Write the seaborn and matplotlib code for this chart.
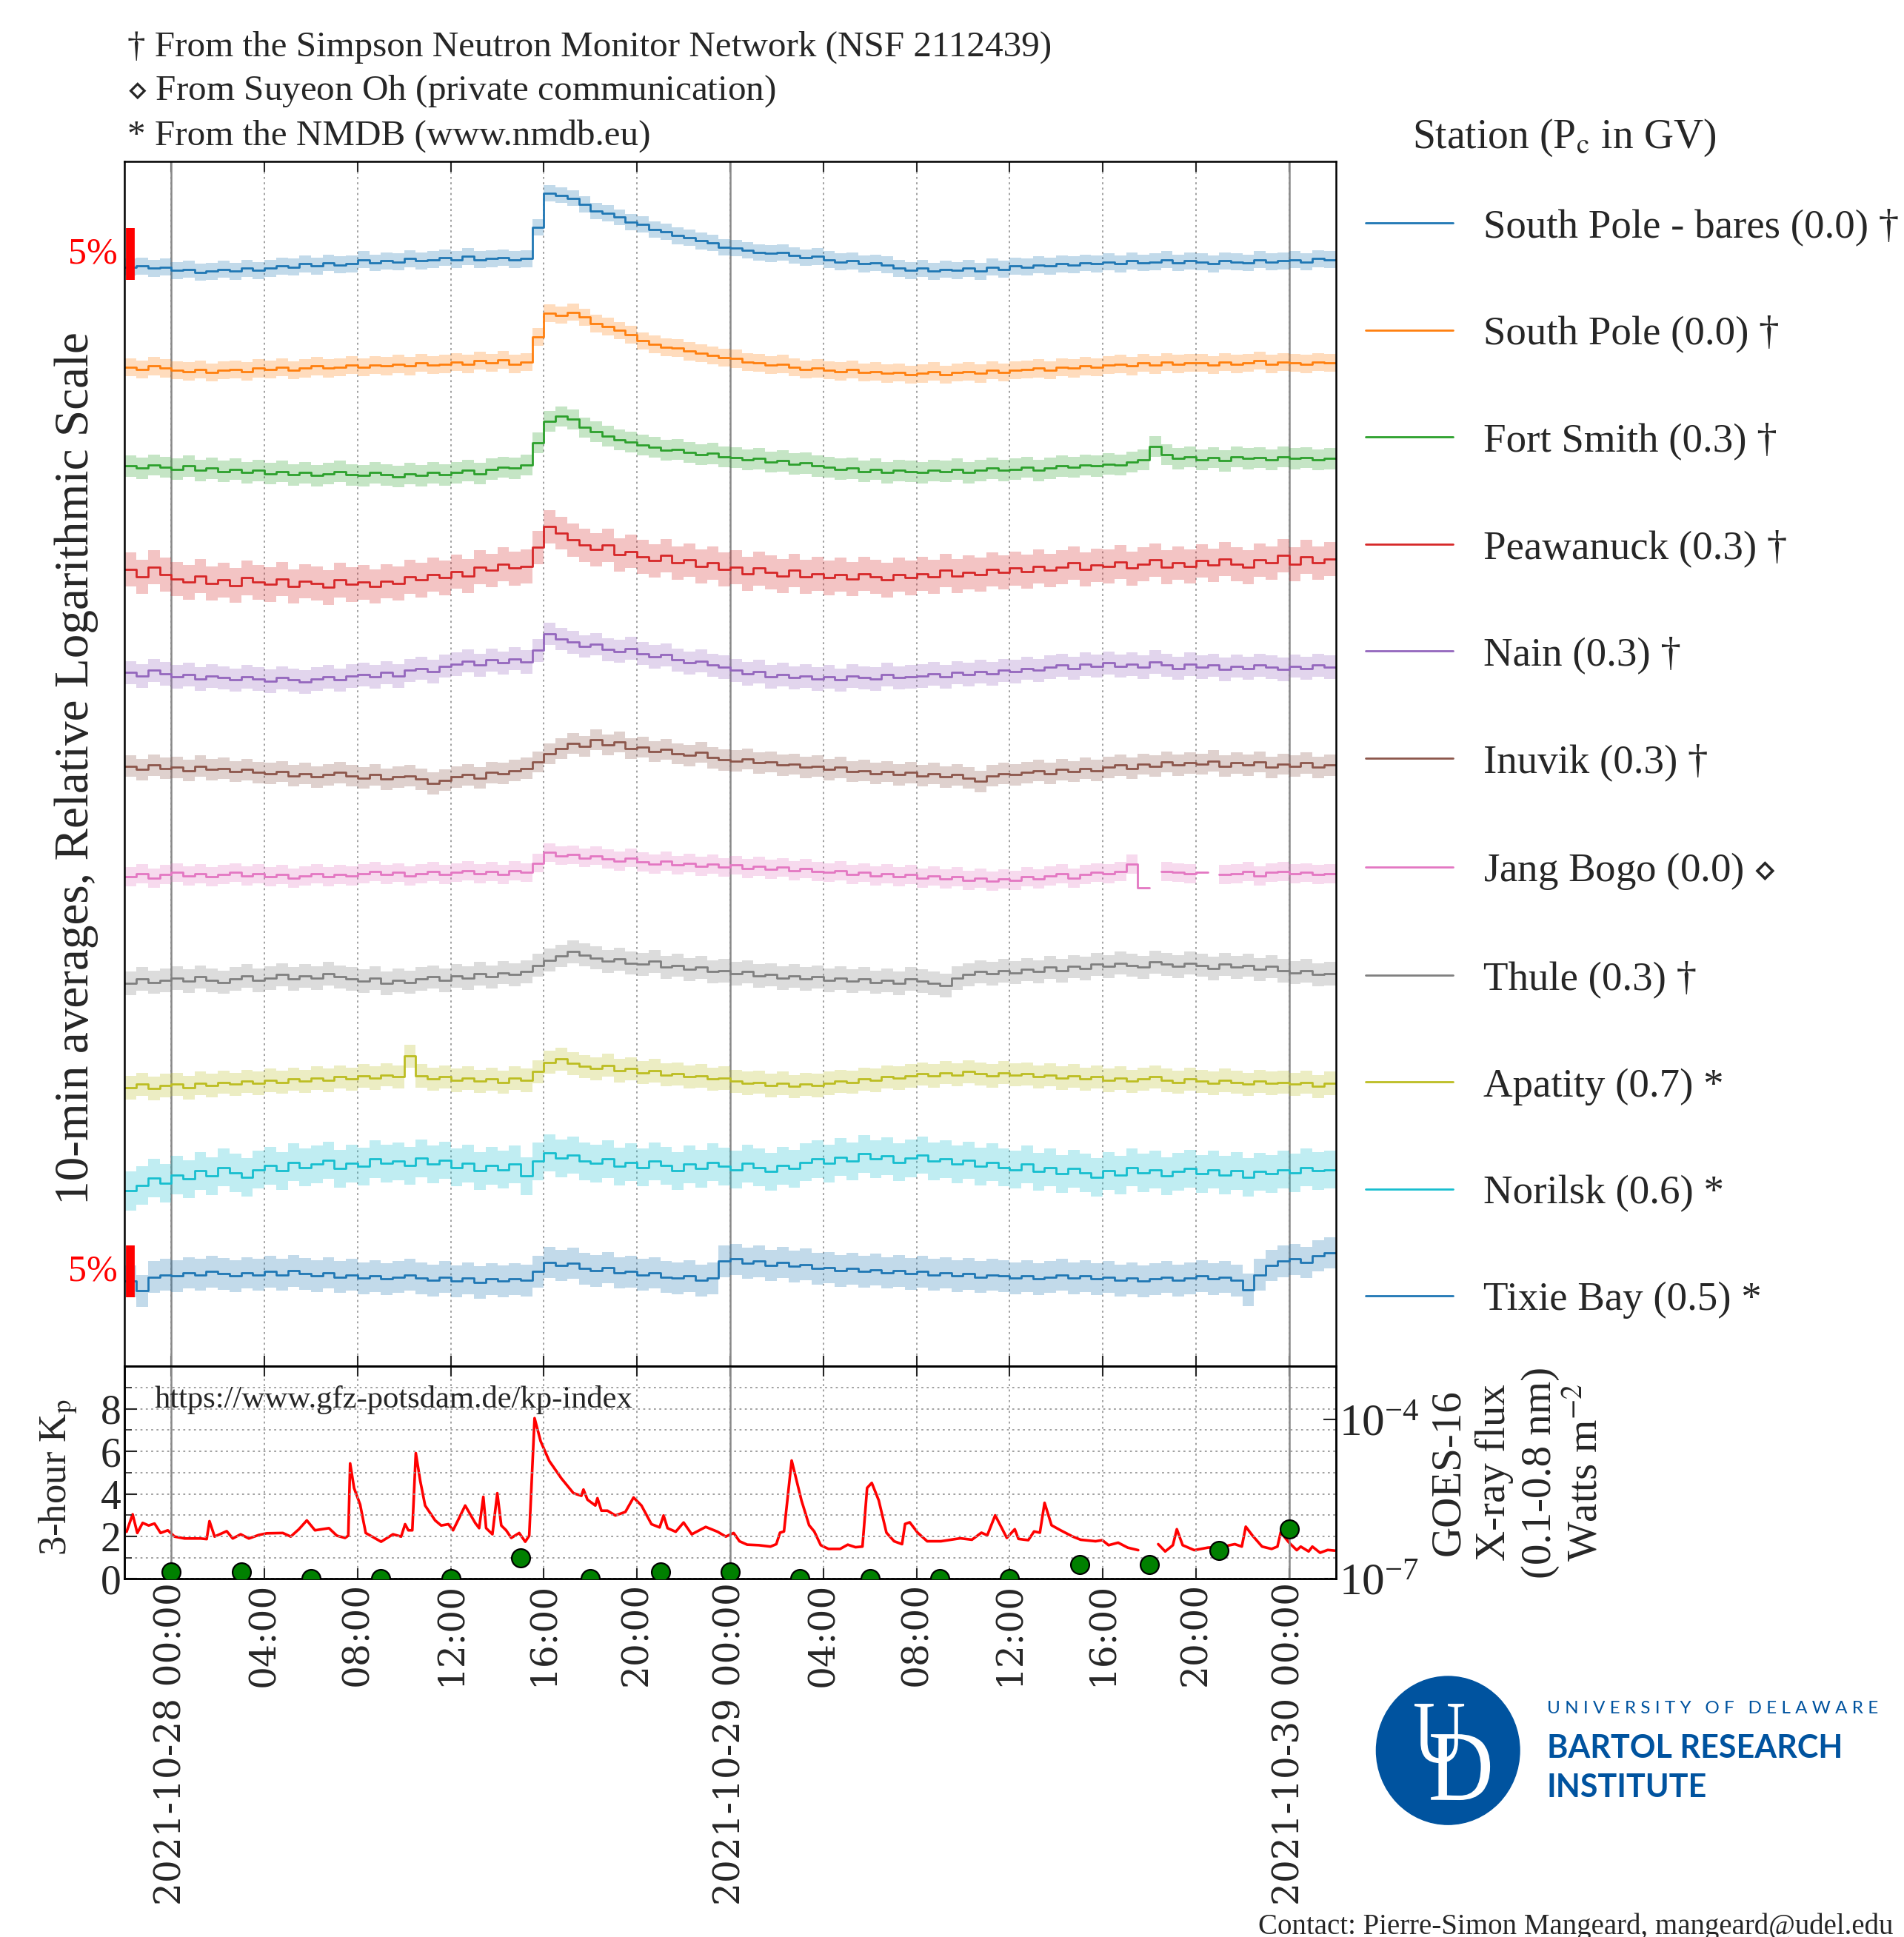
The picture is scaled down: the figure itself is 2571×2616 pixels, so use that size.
import numpy as np
import pandas as pd
import matplotlib
matplotlib.use("Agg")
import matplotlib.pyplot as plt
import matplotlib.dates as mdates
import matplotlib.transforms as mtransforms
from matplotlib.lines import Line2D
from matplotlib.patches import Ellipse, PathPatch
from matplotlib.textpath import TextPath
from matplotlib.font_manager import FontProperties
from matplotlib.ticker import FixedLocator, FuncFormatter, NullLocator
import seaborn as sns

START = pd.Timestamp("2021-10-27 22:00")
END = pd.Timestamp("2021-10-30 02:00")
DAY0 = pd.Timestamp("2021-10-28 00:00")

# percent change vs. pre-event level in 30-min bins from START
SP_BARES = [0.2, 0.3, 0.1, 0.2,
            -0.1, 0.0, -0.3, -0.2, 0.0, -0.2, 0.1, -0.1,
            0.1, 0.3, 0.2, 0.5, 0.3, 0.6, 0.4, 0.5,
            0.9, 0.6, 0.8, 0.7, 1.0, 0.8, 0.9, 1.1,
            0.9, 1.2, 0.9, 1.0, 1.1, 0.9, 1.0, 4.0,
            7.4, 7.2, 6.9, 6.3, 5.6, 5.4, 5.0, 4.5,
            4.3, 3.8, 3.6, 3.2, 3.0, 2.7, 2.5, 2.1,
            2.0, 1.8, 1.6, 1.5, 1.6, 1.3, 1.1, 1.2,
            0.9, 0.7, 0.8, 0.5, 0.6, 0.4, 0.1, -0.1,
            0.1, -0.2, 0.0, -0.1, 0.1, -0.2, 0.2, 0.0,
            0.3, 0.2, 0.4, 0.3, 0.5, 0.4, 0.6, 0.5,
            0.7, 0.5, 0.8, 0.6, 0.7, 0.9, 0.6, 0.8,
            0.7, 0.5, 0.8, 0.7, 0.6, 0.9, 0.7, 0.8,
            0.9, 0.7, 1.0, 0.9]
SOUTH_POLE = [0.1, -0.1, 0.2, 0.0,
              -0.2, -0.3, -0.1, -0.4, -0.2, -0.1, -0.3, 0.0,
              -0.1, 0.1, -0.2, 0.0, 0.2, 0.0, 0.1, 0.3,
              0.1, 0.3, 0.2, 0.4, 0.2, 0.5, 0.3, 0.4,
              0.6, 0.4, 0.7, 0.5, 0.8, 0.4, 0.6, 3.0,
              5.3, 5.1, 5.4, 4.9, 4.3, 4.0, 3.6, 3.2,
              2.6, 2.3, 2.0, 1.9, 1.6, 1.4, 1.2, 1.0,
              0.9, 0.6, 0.5, 0.3, 0.4, 0.1, -0.1, 0.0,
              -0.2, -0.3, -0.1, -0.4, -0.3, -0.5, -0.4, -0.6,
              -0.5, -0.3, -0.6, -0.4, -0.3, -0.5, -0.2, -0.4,
              -0.2, -0.1, 0.0, -0.2, 0.1, 0.0, 0.2, 0.1,
              0.3, 0.4, 0.2, 0.5, 0.3, 0.6, 0.4, 0.5,
              0.5, 0.3, 0.6, 0.4, 0.5, 0.7, 0.4, 0.6,
              0.5, 0.4, 0.6, 0.5]
FORT_SMITH = [0.3, 0.1, 0.4, 0.2,
              0.0, 0.3, -0.1, 0.1, -0.2, 0.0, -0.3, -0.1,
              -0.4, -0.2, -0.5, -0.3, -0.6, -0.4, -0.2, -0.5,
              -0.6, -0.3, -0.5, -0.7, -0.4, -0.6, -0.3, -0.5,
              -0.3, -0.1, -0.4, 0.0, 0.2, 0.1, 0.4, 2.5,
              4.6, 5.1, 4.8, 4.0, 3.6, 3.2, 2.8, 2.6,
              2.3, 2.1, 1.8, 1.9, 1.6, 1.4, 1.5, 1.2,
              1.1, 0.9, 1.0, 0.7, 0.8, 0.5, 0.6, 0.3,
              0.2, 0.0, 0.1, -0.2, 0.0, -0.3, -0.1, -0.2,
              -0.3, -0.1, -0.2, 0.0, -0.3, -0.1, 0.1, -0.1,
              0.0, 0.2, -0.1, 0.1, 0.3, 0.2, 0.4, 0.3,
              0.5, 0.4, 0.7, 0.9, 2.2, 1.4, 1.0, 1.2,
              0.9, 1.1, 0.8, 1.2, 1.0, 1.1, 0.9, 1.2,
              1.0, 1.1, 0.9, 1.0]
PEAWANUCK = [0.3, -0.4, 0.5, -0.2,
             -0.6, -0.9, -0.3, -1.0, -0.7, -1.2, -0.5, -0.9,
             -1.1, -0.6, -1.3, -0.8, -1.0, -1.4, -0.7, -1.1,
             -0.9, -1.3, -0.8, -1.0, -0.4, -0.7, -0.2, -0.5,
             0.1, -0.3, 0.5, 0.2, 0.8, 0.4, 0.6, 2.4,
             4.4, 3.8, 3.1, 2.6, 2.2, 2.6, 1.7, 2.0,
             1.5, 1.1, 1.6, 0.9, 1.2, 0.6, 0.9, 0.3,
             0.5, -0.1, 0.4, 0.0, -0.3, 0.2, -0.4, -0.1,
             -0.5, -0.2, -0.6, -0.1, -0.4, -0.7, -0.2, -0.5,
             -0.1, -0.4, 0.2, -0.3, 0.0, -0.2, 0.3, 0.0,
             0.4, 0.1, 0.6, 0.2, 0.5, 0.9, 0.3, 0.7,
             0.6, 1.0, 0.4, 0.8, 1.2, 0.5, 0.9, 0.6,
             1.1, 0.7, 1.3, 0.8, 0.5, 1.2, 0.9, 1.6,
             0.8, 1.5, 0.9, 1.3]
NAIN = [0.1, -0.2, 0.3, 0.0,
        -0.3, -0.1, -0.5, -0.2, -0.4, -0.6, -0.3, -0.5,
        -0.7, -0.4, -0.6, -0.8, -0.5, -0.3, -0.6, -0.2,
        -0.1, -0.3, 0.1, -0.2, 0.3, 0.5, 0.2, 0.7,
        0.9, 1.2, 0.8, 1.3, 1.0, 1.4, 1.1, 2.2,
        3.8, 3.3, 3.0, 2.6, 2.8, 2.3, 2.1, 2.4,
        1.9, 1.6, 1.8, 1.3, 1.0, 1.2, 0.8, 0.6,
        0.3, 0.0, 0.2, -0.3, -0.1, -0.4, -0.2, -0.5,
        -0.3, -0.6, -0.2, -0.4, -0.5, -0.1, -0.4, -0.3,
        -0.2, 0.0, -0.3, 0.1, -0.1, 0.2, 0.0, 0.3,
        0.2, 0.5, 0.3, 0.6, 0.8, 0.5, 0.9, 0.7,
        1.0, 0.7, 0.9, 0.6, 1.1, 0.8, 0.5, 0.9,
        0.6, 0.8, 0.4, 0.7, 0.5, 0.8, 0.6, 0.4,
        0.7, 0.5, 0.8, 0.6]
INUVIK = [0.2, -0.1, 0.3, 0.0,
          0.1, -0.2, 0.2, -0.1, 0.0, -0.3, -0.1, -0.4,
          -0.5, -0.3, -0.7, -0.5, -0.8, -0.6, -0.4, -0.7,
          -0.9, -0.6, -1.0, -0.8, -0.7, -1.0, -1.4, -1.1,
          -0.8, -0.6, -0.9, -0.4, -0.5, -0.2, 0.0, 0.6,
          1.4, 1.9, 2.4, 2.1, 2.7, 2.2, 2.5, 1.9,
          2.0, 1.6, 1.8, 1.4, 1.2, 1.5, 1.0, 0.8,
          0.7, 0.9, 0.5, 0.6, 0.3, 0.4, 0.1, 0.2,
          -0.1, 0.1, -0.3, -0.2, -0.5, -0.3, -0.6, -0.4,
          -0.7, -0.5, -0.8, -0.6, -0.9, -1.2, -0.7, -0.5,
          -0.6, -0.4, -0.2, -0.5, -0.1, -0.3, 0.0, -0.2,
          0.1, 0.3, 0.0, 0.4, 0.2, 0.6, 0.3, 0.5,
          0.4, 0.7, 0.2, 0.5, 0.3, 0.6, 0.1, 0.4,
          0.2, 0.5, 0.1, 0.3]
JANG_BOGO = [-0.2, 0.1, -0.3, 0.0,
             0.2, -0.1, 0.1, -0.2, 0.0, 0.2, -0.1, 0.1,
             -0.2, 0.0, -0.3, -0.1, 0.1, -0.2, 0.0, -0.1,
             0.1, 0.3, 0.0, 0.2, -0.1, 0.1, 0.3, 0.0,
             0.2, 0.4, 0.1, 0.3, 0.0, 0.4, 0.2, 1.1,
             2.1, 1.8, 1.9, 1.6, 1.8, 1.5, 1.3, 1.6,
             1.2, 1.0, 1.3, 0.9, 1.1, 0.8, 1.0, 0.7,
             0.9, 0.6, 0.8, 0.5, 0.7, 0.4, 0.6, 0.3,
             0.2, 0.4, 0.0, 0.2, -0.1, 0.1, -0.2, 0.0,
             -0.3, -0.1, -0.4, -0.2, -0.5, -0.3, -0.6, -0.4,
             -0.5, -0.2, -0.4, -0.1, 0.1, -0.3, 0.0, 0.2,
             0.1, 0.3, 1.0, -1.2, np.nan, 0.3, 0.2, 0.1,
             0.2, np.nan, 0.0, 0.1, 0.3, -0.1, 0.2, 0.3,
             0.1, 0.2, 0.0, 0.1]
THULE = [-0.3, 0.1, -0.2, 0.0,
         0.2, -0.1, 0.3, 0.0, -0.2, 0.1, 0.4, 0.0,
         0.2, 0.5, 0.1, 0.4, 0.2, 0.6, 0.3, 0.1,
         -0.1, 0.2, -0.3, 0.0, -0.2, 0.1, 0.3, 0.0,
         0.4, 0.2, 0.6, 0.3, 0.7, 0.5, 0.8, 1.4,
         1.9, 2.3, 2.7, 2.4, 2.1, 1.8, 2.0, 1.6,
         1.5, 1.8, 1.2, 1.4, 1.0, 1.2, 0.8, 0.9,
         0.6, 0.8, 0.4, 0.5, 0.2, 0.4, 0.1, 0.3,
         0.0, 0.2, -0.1, 0.1, -0.2, 0.0, -0.3, 0.1,
         -0.1, -0.3, -0.5, 0.2, 0.5, 0.8, 0.6, 0.9,
         0.7, 1.0, 0.8, 1.2, 0.9, 1.3, 1.1, 1.5,
         1.3, 1.6, 1.4, 1.2, 1.7, 1.5, 1.3, 1.6,
         1.4, 1.1, 1.5, 1.2, 1.4, 1.0, 1.3, 0.9,
         0.7, 0.9, 0.5, 0.6]
APATITY = [-0.2, 0.1, -0.3, 0.0,
           0.1, -0.2, 0.2, 0.0, 0.3, 0.1, 0.4, 0.2,
           0.5, 0.3, 0.6, 0.4, 0.7, 0.5, 0.8, 0.6,
           0.9, 0.7, 1.0, 0.8, 2.8, 0.9, 0.6, 0.8,
           0.5, 0.7, 0.4, 0.6, 0.3, 0.7, 0.5, 1.3,
           2.2, 2.5, 2.1, 1.8, 1.6, 1.9, 1.4, 1.6,
           1.2, 1.4, 1.0, 1.1, 0.8, 0.9, 0.6, 0.7,
           0.4, 0.2, 0.3, 0.0, 0.2, -0.1, 0.1, 0.0,
           0.2, 0.4, 0.3, 0.6, 0.5, 0.8, 0.7, 0.9,
           1.1, 0.9, 1.2, 1.0, 1.3, 1.1, 0.9, 1.2,
           1.0, 1.1, 0.8, 1.0, 0.7, 0.9, 0.6, 0.8,
           0.5, 0.7, 0.4, 0.6, 0.8, 0.5, 0.3, 0.6,
           0.4, 0.2, 0.5, 0.3, 0.1, 0.4, 0.2, 0.3,
           0.1, 0.3, -0.1, 0.2]
NORILSK = [-1.0, -0.5, 0.2, -0.3,
           0.5, 0.1, 0.9, 0.4, 1.2, 0.7, 0.3, 1.0,
           1.4, 0.9, 1.7, 1.2, 1.5, 1.9, 1.1, 1.6,
           1.3, 2.0, 1.6, 1.8, 1.4, 2.1, 1.5, 1.9,
           1.2, 1.6, 0.9, 1.4, 1.0, 1.5, 0.4, 1.8,
           2.6, 2.1, 2.4, 1.8, 1.6, 2.0, 1.3, 1.7,
           1.2, 1.8, 1.4, 0.9, 1.5, 1.1, 1.7, 1.3,
           1.0, 1.6, 1.2, 0.8, 1.4, 1.1, 1.7, 2.0,
           1.6, 2.2, 1.8, 2.5, 2.0, 2.3, 1.7, 2.1,
           2.4, 1.8, 2.0, 1.5, 1.9, 1.3, 1.7, 1.2,
           1.0, 1.5, 0.8, 1.2, 0.6, 1.1, 0.7, 0.3,
           0.9, 0.5, 1.2, 0.7, 1.0, 0.4, 0.8, 1.1,
           0.6, 1.0, 0.5, 0.9, 0.3, 0.8, 0.6, 1.0,
           0.7, 1.2, 0.9, 1.0]
TIXIE_BAY = [0.0, -0.9, 0.4, 0.6,
             0.5, 0.8, 0.6, 0.9, 0.7, 0.5, 0.8, 0.6,
             0.9, 0.6, 1.0, 0.7, 0.5, 0.8, 0.4, 0.6,
             0.3, 0.5, 0.2, 0.4, 0.6, 0.3, 0.1, 0.4,
             0.0, 0.3, -0.1, 0.2, 0.0, 0.2, 0.1, 0.9,
             1.8, 1.5, 1.7, 1.2, 1.0, 1.3, 0.8, 0.9,
             0.6, 0.8, 0.4, 0.3, 0.5, 0.1, 0.3, 1.9,
             2.1, 1.7, 1.9, 1.5, 1.8, 1.4, 1.6, 1.2,
             1.3, 1.0, 1.2, 0.9, 1.1, 0.8, 1.0, 0.7,
             0.9, 0.6, 0.8, 0.5, 0.7, 0.4, 0.6, 0.5,
             0.3, 0.5, 0.2, 0.4, 0.6, 0.3, 0.5, 0.2,
             0.4, 0.1, 0.3, 0.0, 0.2, 0.4, 0.1, 0.3,
             0.5, 0.2, 0.4, 0.1, -0.8, 0.6, 1.5, 1.9,
             2.1, 1.8, 2.4, 2.7]

STATION_LABELS = ["South Pole - bares (0.0) †", "South Pole (0.0) †", "Fort Smith (0.3) †",
                  "Peawanuck (0.3) †", "Nain (0.3) †", "Inuvik (0.3) †",
                  "Jang Bogo (0.0) $\\diamond$", "Thule (0.3) †", "Apatity (0.7) *",
                  "Norilsk (0.6) *", "Tixie Bay (0.5) *"]
STATION_DATA = [SP_BARES, SOUTH_POLE, FORT_SMITH, PEAWANUCK, NAIN, INUVIK,
                JANG_BOGO, THULE, APATITY, NORILSK, TIXIE_BAY]
STATION_ERR = [0.8, 0.85, 1.0, 1.6, 1.1, 1.0, 0.9, 1.1, 1.1, 1.8, 1.5]
OFFSETS = [-10.1, -19.4, -28.9, -38.6, -48.1, -57.0, -67.0, -76.9, -86.8, -95.7, -105.2]

# Kp every 3 h from 2021-10-28 00:00
KP = [0.33, 0.33, 0.0, 0.0, 0.0, 1.0, 0.0, 0.33, 0.33,
      0.0, 0.0, 0.0, 0.0, 0.67, 0.67, 1.33, 2.33]

# GOES-16 long channel, hours after 2021-10-28 00:00
GOES_HOURS = [-1.92, -1.66, -1.46, -1.23, -0.97, -0.72, -0.46, -0.15, 0.14, 0.57,
              1.26, 1.52, 1.64, 1.86, 2.38, 2.64, 2.98, 3.33, 3.76, 4.10,
              4.79, 5.13, 5.48, 5.82, 6.17, 6.77, 7.11, 7.46, 7.60, 7.68,
              7.85, 8.11, 8.35, 9.01, 9.52, 9.87, 10.04, 10.18, 10.35, 10.50,
              10.69, 10.90, 11.33, 11.59, 11.90, 12.10, 12.31, 12.62, 13.05, 13.22,
              13.40, 13.52, 13.79, 14.00, 14.17, 14.38, 14.60, 14.94, 15.20, 15.37,
              15.60, 15.86, 16.23, 16.75, 17.27, 17.61, 17.70, 17.87, 18.21, 18.30,
              18.47, 18.73, 19.07, 19.50, 19.85, 20.19, 20.62, 20.97, 21.14, 21.31,
              21.66, 22.00, 22.35, 22.95, 23.46, 23.81, 24.15, 24.40, 24.73, 25.23,
              25.73, 25.98, 26.14, 26.31, 26.64, 27.06, 27.39, 27.61, 27.89, 28.22,
              28.72, 29.05, 29.38, 29.68, 29.88, 30.08, 30.38, 30.71, 31.04, 31.38,
              31.51, 31.71, 32.05, 32.46, 33.05, 33.88, 34.38, 34.79, 35.04, 35.38,
              35.88, 36.22, 36.38, 36.80, 37.05, 37.30, 37.50, 37.80, 38.19, 38.71,
              39.05, 39.69, 39.98, 40.25, 40.66, 41.07, 41.52, 41.90, 42.38, 42.68,
              43.01, 43.18, 43.43, 43.93, 44.51, 45.17, 45.67, 45.97, 46.14, 46.42,
              46.84, 47.25, 47.50, 47.64, 48.00, 48.33, 48.50, 48.84, 49.00, 49.33,
              49.66, 49.96]
GOES_FLUX = [7.7e-7, 1.64e-6, 7.3e-7, 1.13e-6, 1.01e-6, 1.10e-6, 7.3e-7, 8.2e-7, 6.25e-7, 5.75e-7,
             5.75e-7, 5.6e-7, 1.22e-6, 6.25e-7, 7.9e-7, 5.75e-7, 6.9e-7, 5.75e-7, 6.7e-7, 7.2e-7,
             7.3e-7, 6.25e-7, 8.6e-7, 1.26e-6, 8.2e-7, 9.0e-7, 6.5e-7, 5.9e-7, 6.5e-7, 1.49e-5,
             5.1e-6, 2.5e-6, 7.3e-7, 5.0e-7, 6.9e-7, 6.25e-7, 1.07e-6, 8.2e-7, 8.2e-7, 2.33e-5,
             7.0e-6, 2.4e-6, 1.26e-6, 1.01e-6, 1.07e-6, 8.2e-7, 1.26e-6, 2.4e-6, 1.13e-6, 9.0e-7,
             3.5e-6, 9.0e-7, 6.9e-7, 4.1e-6, 1.01e-6, 8.2e-7, 5.9e-7, 7.3e-7, 5.0e-7, 6.5e-7,
             1.06e-4, 3.9e-5, 1.66e-5, 7.8e-6, 4.1e-6, 3.66e-6, 4.8e-6, 3.1e-6, 2.4e-6, 3.3e-6,
             1.92e-6, 1.92e-6, 1.56e-6, 1.82e-6, 3.4e-6, 2.4e-6, 1.07e-6, 9.3e-7, 1.56e-6, 9.0e-7,
             7.7e-7, 1.15e-6, 6.9e-7, 9.5e-7, 7.7e-7, 6.25e-7, 7.3e-7, 5.1e-7, 4.4e-7, 4.3e-7,
             4.05e-7, 4.5e-7, 7.4e-7, 7.8e-7, 1.69e-5, 3.0e-6, 1.02e-6, 7.8e-7, 4.3e-7, 3.66e-7,
             3.66e-7, 4.4e-7, 3.94e-7, 4.05e-7, 5.15e-6, 6.4e-6, 3.0e-6, 7.4e-7, 5.1e-7, 4.5e-7,
             1.08e-6, 1.16e-6, 7.4e-7, 5.1e-7, 5.1e-7, 5.8e-7, 5.45e-7, 7.4e-7, 6.6e-7, 1.57e-6,
             5.9e-7, 8.6e-7, 5.65e-7, 5.35e-7, 7.8e-7, 7.4e-7, 2.7e-6, 1.02e-6, 8.2e-7, 6.25e-7,
             5.45e-7, 5.1e-7, 5.35e-7, 4.3e-7, 4.8e-7, 3.87e-7, 3.47e-7, np.nan, 4.5e-7, 3.28e-7,
             4.3e-7, 8.6e-7, 4.3e-7, 3.47e-7, 3.87e-7, 4.05e-7, 4.5e-7, 4.05e-7, 9.6e-7, 6.6e-7,
             4.05e-7, 3.66e-7, 4.05e-7, 7.5e-7, 4.8e-7, 3.47e-7, 4.05e-7, 3.28e-7, 4.05e-7, 3.1e-7,
             3.5e-7, 3.4e-7]

sns.set_theme(style="white")
plt.rcParams["font.family"] = ["Liberation Serif", "DejaVu Serif"]
plt.rcParams["mathtext.fontset"] = "stix"
plt.rcParams["axes.linewidth"] = 1.8
plt.rcParams["axes.edgecolor"] = "black"

palette = sns.color_palette("tab10")
fig = plt.figure(figsize=(25.71, 26.16), dpi=100)
ax = fig.add_axes([0.0655, 0.2946, 0.636, 0.6219])
ax_low = fig.add_axes([0.0655, 0.1849, 0.636, 0.1097], sharex=ax)

# ---- stacked neutron monitor traces
for i, vals in enumerate(STATION_DATA):
    v = np.array(vals, dtype=float)
    edges = pd.date_range(START, periods=len(v) + 1, freq="30min")
    y = OFFSETS[i] + 100 * np.log1p(v / 100)
    lo = OFFSETS[i] + 100 * np.log1p((v - STATION_ERR[i]) / 100)
    hi = OFFSETS[i] + 100 * np.log1p((v + STATION_ERR[i]) / 100)
    c = palette[i % 10]
    ax.fill_between(edges, np.append(lo, lo[-1]), np.append(hi, hi[-1]),
                    step="post", color=c, alpha=0.27, lw=0)
    ax.step(edges, np.append(y, y[-1]), where="post", color=c, lw=2.0)

ax.set_xlim(START, END)
ax.set_ylim(-113.2, 0)
ax.set_yticks([])

# 5% scale bars
bt = mtransforms.blended_transform_factory(ax.transAxes, ax.transData)
bar_h = 100 * np.log(1.05)
for base in [OFFSETS[0] - 1.0, OFFSETS[-1] - 1.5]:
    ax.plot([0.0045, 0.0045], [base, base + bar_h], transform=bt, color="red",
            lw=8.5, solid_capstyle="butt", clip_on=False, zorder=6)
    ax.text(-0.006, base + bar_h / 2, "5%", transform=bt, color="red",
            fontsize=36, ha="right", va="center")

hour_loc = mdates.HourLocator(byhour=range(0, 24, 4))
ax.xaxis.set_major_locator(hour_loc)


def date_fmt(x, pos):
    d = mdates.num2date(x)
    return d.strftime("%Y-%m-%d %H:%M") if d.hour == 0 else d.strftime("%H:%M")


ax.xaxis.set_major_formatter(FuncFormatter(date_fmt))
for a in (ax, ax_low):
    a.grid(axis="x", which="major", ls=(0, (1.5, 2.5)), color="#999999", lw=1.3)
    for k in range(3):
        a.axvline(DAY0 + pd.Timedelta(days=k), color="#888888", lw=1.8, zorder=0.6)
    a.tick_params(axis="x", which="major", direction="in", top=True, bottom=True,
                  length=10, width=1.5)
ax.tick_params(axis="x", labelbottom=False)

handles = [Line2D([], [], color=palette[i % 10], lw=2) for i in range(len(STATION_LABELS))]
ax.legend(handles, STATION_LABELS, loc="upper left", bbox_to_anchor=(1.0245, 0.9613),
          frameon=False, fontsize=39.5, handlelength=2.15, handletextpad=0.75,
          labelspacing=1.71, borderpad=0, borderaxespad=0)
fig.text(0.7417, 0.9286, "Station (P$_\\mathrm{c}$ in GV)", fontsize=40, va="center")

fig.text(0.0402, 0.6033, "10-min averages, Relative Logarithmic Scale", rotation=90,
         fontsize=47, ha="center", va="center")

notes = ["† From the Simpson Neutron Monitor Network (NSF 2112439)",
         "$\\diamond$ From Suyeon Oh (private communication)",
         "* From the NMDB (www.nmdb.eu)"]
for yy, t in zip([0.9758, 0.9528, 0.9298], notes):
    fig.text(0.0668, yy, t, fontsize=35.4, va="center")

# ---- lower panel: Kp and GOES X-ray flux
ax2 = ax_low.twinx()
ax2.set_yscale("log")
ax2.set_ylim(1e-7, 1e-3)
ax2.yaxis.set_major_locator(FixedLocator([1e-7, 1e-4]))
ax2.yaxis.set_minor_locator(NullLocator())
ax2.tick_params(axis="y", direction="in", length=12, width=1.5, labelsize=44)

goes = pd.DataFrame({"time": DAY0 + pd.to_timedelta(GOES_HOURS, unit="h"),
                     "flux": GOES_FLUX})
goes["seg"] = goes["flux"].isna().cumsum()
goes = goes.dropna()
sns.lineplot(data=goes, x="time", y="flux", units="seg", estimator=None,
             color="red", lw=2.6, ax=ax2)
ax2.set_xlabel("")
ax2.set_ylabel("")

kp_times = DAY0 + pd.to_timedelta(np.arange(len(KP)) * 3, unit="h")
sns.scatterplot(x=kp_times, y=KP, ax=ax_low, color="green", edgecolor="black",
                linewidth=1.6, s=320, zorder=5, legend=False)
ax_low.set_zorder(ax2.get_zorder() + 1)
ax_low.patch.set_visible(False)
ax_low.set_xlim(START, END)
ax_low.set_ylim(0, 10)
ax_low.yaxis.set_major_locator(FixedLocator([0, 2, 4, 6, 8]))
ax_low.yaxis.set_minor_locator(FixedLocator([1, 3, 5, 7, 9]))
ax_low.grid(axis="y", which="both", ls=(0, (1.5, 2.5)), color="#999999", lw=1.3)
ax_low.tick_params(axis="y", which="major", direction="in", length=12, width=1.5,
                   labelsize=40, right=False)
ax_low.tick_params(axis="y", which="minor", direction="in", length=7, width=1.2, right=False)
ax_low.tick_params(axis="x", labelrotation=90, labelsize=35, labelfontfamily="DejaVu Serif")
ax_low.set_xlabel("")
ax_low.set_ylabel("")
ax_low.text(0.0245, 0.843, "https://www.gfz-potsdam.de/kp-index", transform=ax_low.transAxes,
            fontsize=30.7, va="center", zorder=7)

fig.text(0.0305, 0.2372, "3-hour K$_\\mathrm{p}$", rotation=90, fontsize=38,
         ha="center", va="center")
fig.text(0.797, 0.2398, "GOES-16\nX-ray flux\n(0.1-0.8 nm)\nWatts m$^{-2}$", rotation=90,
         fontsize=41, ha="center", va="center", multialignment="center", linespacing=1.25)

# ---- logo and contact
ud_blue = "#00539F"
fig.add_artist(Ellipse((0.7605, 0.0963), 0.0753, 0.0765, transform=fig.transFigure,
                       color=ud_blue))


def monogram_letter(ch, x0, y0, x1, y1):
    tp = TextPath((0, 0), ch, size=100, prop=FontProperties(family="Liberation Serif"))
    ext = tp.get_extents()
    tr = (mtransforms.Affine2D().translate(-ext.x0, -ext.y0)
          .scale((x1 - x0) / ext.width, (y1 - y0) / ext.height).translate(x0, y0))
    return PathPatch(tr.transform_path(tp), transform=fig.transFigure,
                     facecolor="white", edgecolor="none")


fig.add_artist(monogram_letter("U", 0.7429, 0.0898, 0.7690, 0.1204))
fig.add_artist(monogram_letter("D", 0.7515, 0.0707, 0.7826, 0.1047))

fig.text(0.8125, 0.1180, " ".join("UNIVERSITY") + "   " + " ".join("OF") + "   "
         + " ".join("DELAWARE"), color=ud_blue, fontsize=17.5, va="center", fontfamily="Lato")
fig.text(0.8125, 0.0976, "BARTOL RESEARCH", color=ud_blue, fontsize=31, va="center",
         fontfamily="Lato", fontweight="bold")
fig.text(0.8125, 0.0772, "INSTITUTE", color=ud_blue, fontsize=31, va="center",
         fontfamily="Lato", fontweight="bold")
fig.text(0.9942, 0.0015, "Contact: Pierre-Simon Mangeard, mangeard@udel.edu",
         fontsize=28, ha="right", va="baseline")

fig.savefig("out.png", dpi=100)
plt.close(fig)
